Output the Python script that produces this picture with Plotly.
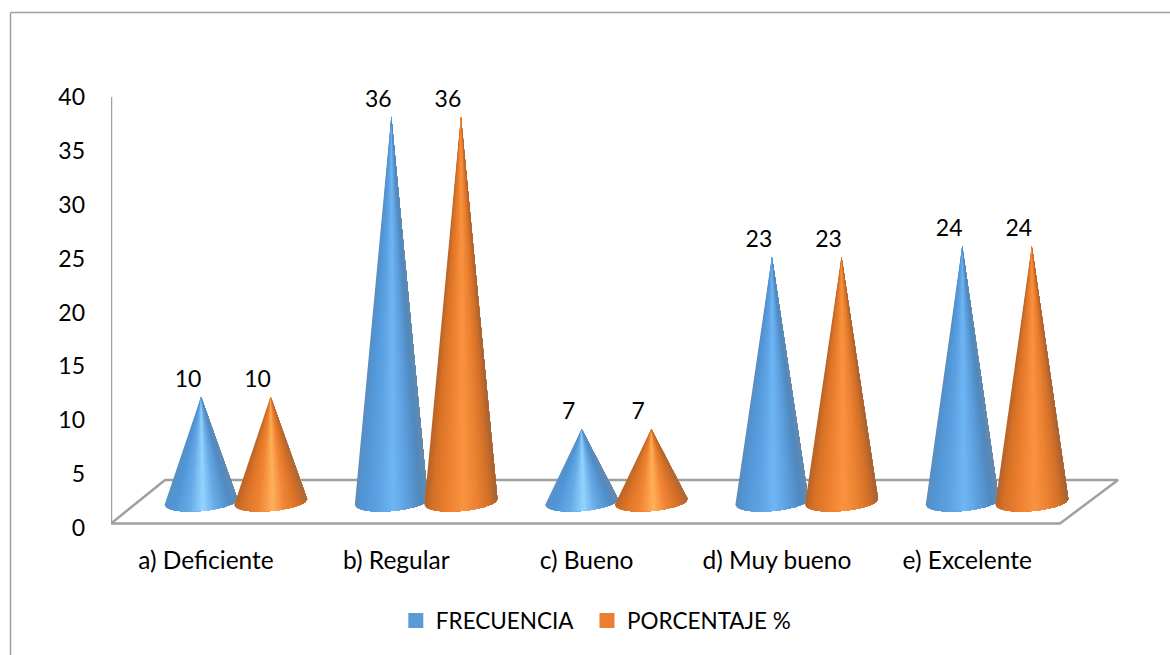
import numpy as np
import plotly.graph_objects as go
from plotly.colors import sample_colorscale

# Survey results per rating category
categorias = ["a) Deficiente", "b) Regular", "c) Bueno", "d) Muy bueno", "e) Excelente"]
frecuencia = [10, 36, 7, 23, 24]
porcentaje = [10, 36, 7, 23, 24]
marcas_y = [0, 5, 10, 15, 20, 25, 30, 35, 40]

AZUL = "#5B9BD5"
NARANJA = "#ED7D31"
GRIS = "#A0A0A0"
FUENTE = "Lato"
W, H = 1170, 655

# Plot area placement on the page, in pixels
LEFT, RIGHT, TOP, BOTTOM = 111.0, 1120.0, 97.0, 528.0

# Conversion of pixel lengths into axis units for the oblique floor and cones
UX = 190.3   # pixels per category
UY = (BOTTOM - TOP) / 40.0   # pixels per value unit
X0 = -(206.0 - LEFT) / UX
X1 = X0 + (RIGHT - LEFT) / UX

# Oblique floor of the pseudo 3D chart
FRONT_Y = (BOTTOM - 523.5) / UY
BACK_Y = (BOTTOM - 480.0) / UY
WALL_TOP = (BOTTOM - 94.0) / UY
FRONT_W = 949.0 / UX
BACK_SHIFT_L = 54.0 / UX
BACK_SHIFT_R = 58.0 / UX

# Cone geometry: apexes rise from BASE_Y, the base ellipse is centred on RIM_Y
BASE_Y = (BOTTOM - 504.5) / UY
RIM_Y = (BOTTOM - 502.0) / UY
RX = 36.5 / UX
RY = 9.0 / UY
TILT = 6.0 / 73.0 * (UX / UY)    # axis units of y per axis unit of x
OFFSET = {"f": -5.0 / UX, "p": 64.6 / UX}
N_LAYERS = 40

# Shading across a cone, from the left silhouette to the right one
SOMBRAS = {
    "f": {
        "claro": [[0, "#5A90C4"], [0.12, "#4F95D6"], [0.34, "#66ABE6"], [0.53, "#93D4FF"],
                  [0.70, "#66A9E4"], [0.90, "#4F8CC6"], [1, "#668AAB"]],
        "medio": [[0, "#5A8DBE"], [0.12, "#5297D8"], [0.30, "#5CA1E2"], [0.53, "#6FB6F4"],
                  [0.72, "#5D9FDE"], [0.90, "#4F88BE"], [1, "#668AAB"]],
    },
    "p": {
        "claro": [[0, "#B9662A"], [0.12, "#DA7226"], [0.34, "#F08534"], [0.53, "#FFB05C"],
                  [0.70, "#F08534"], [0.90, "#D26E26"], [1, "#A8683A"]],
        "medio": [[0, "#B5642A"], [0.12, "#D87226"], [0.30, "#EB7F2F"], [0.53, "#FA9340"],
                  [0.72, "#EC8232"], [0.90, "#D06E27"], [1, "#A06238"]],
    },
}


def cone_layers(center, value, scale):
    """Return overlapping polygons for one cone, painted from left to right.

    Each layer runs from the apex over the rest of the base arc, so neighbouring
    colours share no seam.
    """
    u = np.linspace(0, 1, N_LAYERS + 1)
    s = 2 * u - 1
    xs = center + RX * s
    ys = RIM_Y - RY * np.sqrt(np.clip(1 - s**2, 0, 1)) + TILT * RX * s
    colores = sample_colorscale(scale, (u[:-1] + u[1:]) / 2, colortype="rgb")
    apex = BASE_Y + value
    return [
        ([center, *xs[i:], center], [apex, *ys[i:], apex], colores[i])
        for i in range(N_LAYERS)
    ]


fig = go.Figure()

# Floor outline
fig.add_trace(go.Scatter(
    x=[X0, X0 + BACK_SHIFT_L, X0 + FRONT_W + BACK_SHIFT_R, X0 + FRONT_W, X0],
    y=[FRONT_Y, BACK_Y, BACK_Y, FRONT_Y, FRONT_Y],
    mode="lines", line=dict(color=GRIS, width=2.5), showlegend=False, hoverinfo="skip",
    cliponaxis=False,
))
# Vertical wall edge
fig.add_trace(go.Scatter(
    x=[X0, X0], y=[FRONT_Y, WALL_TOP], mode="lines",
    line=dict(color=GRIS, width=2.5), showlegend=False, hoverinfo="skip",
    cliponaxis=False,
))

series = [("FRECUENCIA", "f", frecuencia, AZUL), ("PORCENTAJE %", "p", porcentaje, NARANJA)]

# Cones, one group per category; orange sits on top of blue
for nombre, clave, valores, color in series:
    for i, v in enumerate(valores):
        escala = SOMBRAS[clave]["claro" if v <= 10 else "medio"]
        for xs, ys, c in cone_layers(i + OFFSET[clave], v, escala):
            fig.add_trace(go.Scatter(
                x=xs, y=ys, mode="none", fill="toself", fillcolor=c,
                showlegend=False, hoverinfo="skip",
            ))

# Value labels above each apex
for nombre, clave, valores, color in series:
    fig.add_trace(go.Scatter(
        x=[i + OFFSET[clave] - 13.0 / UX for i in range(len(valores))],
        y=[BASE_Y + v + 15.5 / UY for v in valores],
        text=[str(v) for v in valores],
        mode="text", textposition="middle center", cliponaxis=False,
        textfont=dict(family=FUENTE, size=23, color="#000000"),
        showlegend=False, hoverinfo="skip",
    ))

# One legend per series so each entry can be placed on its own
for (nombre, clave, valores, color), leyenda in zip(series, ["legend", "legend2"]):
    fig.add_trace(go.Scatter(
        x=[None], y=[None], mode="markers", name=nombre, legend=leyenda,
        marker=dict(symbol="square", size=15, color=color, line=dict(width=0)),
    ))

estilo_leyenda = dict(
    orientation="h", xref="container", yref="container",
    y=0.052, xanchor="left", yanchor="middle",
    font=dict(family=FUENTE, size=22.5, color="#000000"),
    bgcolor="rgba(0,0,0,0)",
)

fig.update_layout(
    width=W, height=H,
    margin=dict(l=0, r=0, t=0, b=0, autoexpand=False),
    paper_bgcolor="white", plot_bgcolor="white",
    font=dict(family=FUENTE, size=23, color="#000000"),
    xaxis=dict(
        domain=[LEFT / W, RIGHT / W], range=[X0, X1],
        tickvals=list(range(len(categorias))), ticktext=categorias,
        showgrid=False, zeroline=False, showline=False, ticks="", ticklabelstandoff=15,
        tickfont=dict(family=FUENTE, size=24.5, color="#000000"),
    ),
    yaxis=dict(
        domain=[(H - BOTTOM) / H, (H - TOP) / H], range=[0, 40],
        tickvals=marcas_y, showgrid=False, zeroline=False, showline=False, ticks="",
        ticklabelstandoff=25,
        tickfont=dict(family=FUENTE, size=23, color="#000000"),
    ),
    showlegend=True,
    legend=dict(x=0.3383, **estilo_leyenda),
    legend2=dict(x=0.5017, **estilo_leyenda),
    # Open frame along the top and left edges of the chart area
    shapes=[
        dict(type="line", xref="paper", yref="paper",
             x0=10.5 / W, x1=10.5 / W, y0=0, y1=1 - 12.5 / H,
             line=dict(color=GRIS, width=1.5)),
        dict(type="line", xref="paper", yref="paper",
             x0=10.5 / W, x1=1, y0=1 - 12.5 / H, y1=1 - 12.5 / H,
             line=dict(color=GRIS, width=1.5)),
    ],
)

fig.write_html("out.html")
